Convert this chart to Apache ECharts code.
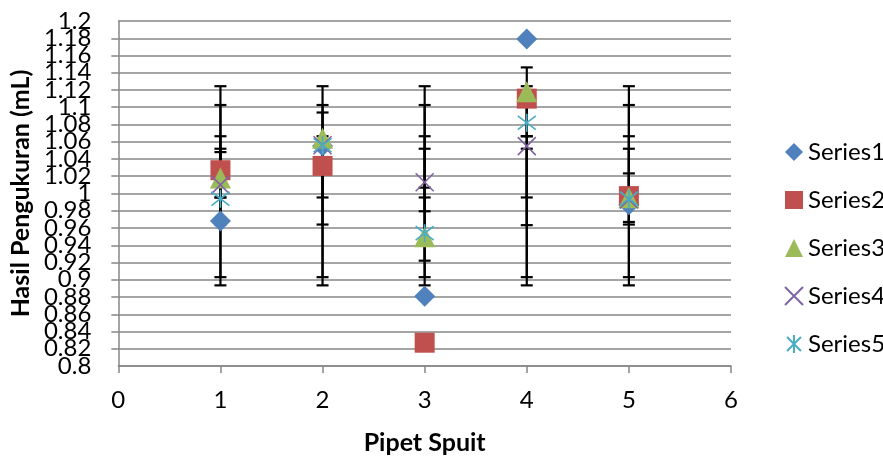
<!DOCTYPE html>
<html>
<head>
<meta charset="utf-8">
<script src="https://cdn.jsdelivr.net/npm/echarts@6/dist/echarts.min.js"></script>
<style>
html,body{margin:0;padding:0;background:#fff;}
#chart{width:883px;height:460px;}
</style>
</head>
<body>
<div id="chart"></div>
<script>
// ---- data ----
const xValues = [1, 2, 3, 4, 5];
const seriesNames = ['Series1', 'Series2', 'Series3', 'Series4', 'Series5'];
const series1 = [0.968, 1.055, 0.881, 1.179, 0.987];
const series2 = [1.027, 1.032, 0.827, 1.110, 0.997];
const series3 = [1.018, 1.064, 0.950, 1.118, 0.995];
const series4 = [1.010, 1.056, 1.013, 1.055, 0.993];
const series5 = [0.994, 1.056, 0.954, 1.082, 0.994];

// error bar ranges (low / high) per point
const err1Low  = [0.903, 0.903, 0.903, 0.903, 0.903];
const err1High = [1.1244, 1.1244, 1.1244, 1.1244, 1.1244];
const err2Low  = [0.8935, 0.8935, 0.8935, 0.8935, 0.8935];
const err2High = [1.1026, 1.1026, 1.1026, 1.1026, 1.1026];
const err3Low  = [0.9954, 0.9954, 0.9954, 0.9954, 0.9954];
const err3High = [1.0664, 1.0664, 1.0664, 1.0664, 1.0664];
const err4Low  = [0.964, 0.964, 0.9794, 0.9633, 0.964];
const err4High = [1.0519, 1.0519, 1.0519, 1.0519, 1.0519];
const err5Low  = [0.9954, 1.030, 0.9221, 1.0664, 0.967];
const err5High = [1.048, 1.0939, 1.0068, 1.1462, 1.0233];

const yTickMin = 0.8, yTickMax = 1.2, yTickStep = 0.02;
const xTickMin = 0, xTickMax = 6, xTickStep = 1;

// ---- build ----
const values = [series1, series2, series3, series4, series5];
const errLows = [err1Low, err2Low, err3Low, err4Low, err5Low];
const errHighs = [err1High, err2High, err3High, err4High, err5High];
const colors = ['#4F81BD', '#C0504D', '#9BBB59', '#8064A2', '#4BACC6'];
const FONT = 'Lato, "Open Sans", sans-serif';

const symbolDefs = [
  {symbol: 'diamond', size: 21, stroke: false},
  {symbol: 'rect', size: 20, stroke: false},
  {symbol: 'triangle', size: 21, stroke: false},
  {symbol: 'path://M0,0L10,10M10,0L0,10', size: 18, stroke: true},
  {symbol: 'path://M0,0L10,10M10,0L0,10M5,-1.5L5,11.5', size: 18, stroke: true}
];

const errorSeries = values.map((vals, i) => ({
  type: 'custom',
  name: 'err' + (i + 1),
  z: 1,
  silent: true,
  encode: {x: 0, y: [1, 2]},
  data: xValues.map((x, j) => [x, errLows[i][j], errHighs[i][j]]),
  renderItem: function (params, api) {
    const x = api.value(0);
    const lo = api.coord([x, api.value(1)]);
    const hi = api.coord([x, api.value(2)]);
    const hw = 6;
    const st = {stroke: '#000', lineWidth: 2.2};
    return {
      type: 'group',
      children: [
        {type: 'line', shape: {x1: lo[0], y1: lo[1], x2: hi[0], y2: hi[1]}, style: st},
        {type: 'line', shape: {x1: lo[0] - hw, y1: lo[1], x2: lo[0] + hw, y2: lo[1]}, style: st},
        {type: 'line', shape: {x1: hi[0] - hw, y1: hi[1], x2: hi[0] + hw, y2: hi[1]}, style: st}
      ]
    };
  }
}));

const scatterSeries = values.map((vals, i) => {
  const def = symbolDefs[i];
  return {
    type: 'scatter',
    name: seriesNames[i],
    z: 10 + i,
    symbol: def.symbol,
    symbolSize: def.size,
    data: xValues.map((x, j) => [x, vals[j]]),
    itemStyle: def.stroke
      ? {color: 'rgba(0,0,0,0)', borderColor: colors[i], borderWidth: 1.6, opacity: 1}
      : {color: colors[i], opacity: 1},
    emphasis: {disabled: true}
  };
});

const labelStyle = {fontFamily: FONT, fontSize: 24, color: '#000'};

const chart = echarts.init(document.getElementById('chart'), null, {renderer: 'canvas'});
chart.setOption({
  animation: false,
  backgroundColor: '#ffffff',
  textStyle: {fontFamily: FONT},
  grid: {left: 117, right: 152, top: 21, bottom: 90, containLabel: false},
  legend: {
    orient: 'vertical',
    left: 779,
    top: 135,
    itemWidth: 18,
    itemHeight: 18,
    itemGap: 24,
    data: seriesNames,
    textStyle: {fontFamily: FONT, fontSize: 24, lineHeight: 24, color: '#000', padding: [0, 0, 0, 0]},
    selectedMode: false
  },
  xAxis: {
    type: 'value',
    min: xTickMin,
    max: xTickMax,
    interval: xTickStep,
    name: 'Pipet Spuit',
    nameLocation: 'middle',
    nameGap: 64,
    nameTextStyle: {fontFamily: FONT, fontSize: 25, fontWeight: 'bold', color: '#000'},
    axisLine: {show: true, onZero: false, lineStyle: {color: '#878787', width: 1.5}},
    axisTick: {show: true, inside: false, length: 7, lineStyle: {color: '#878787', width: 1.5}},
    axisLabel: Object.assign({margin: 22, showMinLabel: true, showMaxLabel: true}, labelStyle),
    splitLine: {show: false}
  },
  yAxis: [{
    type: 'value',
    min: yTickMin,
    max: yTickMax,
    interval: yTickStep,
    position: 'left',
    name: 'Hasil Pengukuran (mL)',
    nameLocation: 'middle',
    nameRotate: 90,
    nameGap: 84,
    nameTextStyle: {fontFamily: FONT, fontSize: 25, fontWeight: 'bold', color: '#000'},
    axisLine: {show: true, onZero: false, lineStyle: {color: '#878787', width: 1.5}},
    axisTick: {show: true, inside: false, length: 7, lineStyle: {color: '#878787', width: 1.5}},
    axisLabel: Object.assign({margin: 27, showMinLabel: false, showMaxLabel: false}, labelStyle),
    splitLine: {show: true, lineStyle: {color: '#878787', width: 1.5}}
  }, {
    // end labels (1.2 and 0.8) of the same scale
    type: 'value',
    min: yTickMin,
    max: yTickMax,
    interval: yTickMax - yTickMin,
    position: 'left',
    offset: 0,
    axisLine: {show: false},
    axisTick: {show: false},
    splitLine: {show: false},
    axisLabel: Object.assign({margin: 27, showMinLabel: true, showMaxLabel: true}, labelStyle)
  }],
  series: errorSeries.concat(scatterSeries)
});
</script>
</body>
</html>
